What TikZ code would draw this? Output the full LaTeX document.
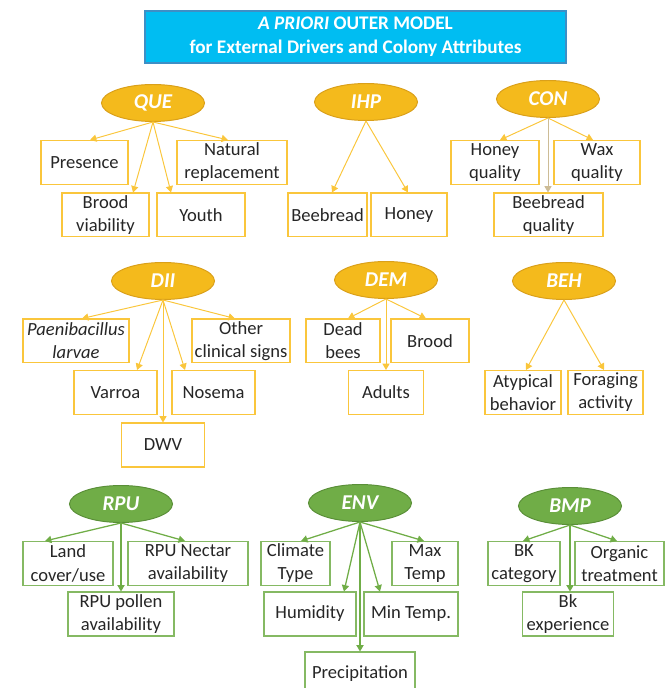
\documentclass[tikz,border=0pt]{standalone}
\usepackage{fontspec}
\setmainfont{Carlito}
\usepackage{xcolor}
\usetikzlibrary{shapes.geometric,arrows.meta,calc}
\definecolor{omgold}{RGB}{244,186,28}
\definecolor{omgoldedge}{RGB}{218,160,26}
\definecolor{omgoldline}{RGB}{250,198,60}
\definecolor{omgreen}{RGB}{112,173,71}
\definecolor{omgreenedge}{RGB}{90,143,56}
\definecolor{omcyan}{RGB}{0,189,242}
\definecolor{omcyanedge}{RGB}{61,143,198}
\definecolor{omtan}{RGB}{205,188,150}
\tikzset{
  omtitle/.style={rectangle, fill=omcyan, draw=omcyanedge, line width=1.4pt, inner sep=0pt, align=center, text=white, font=\fontsize{13.7}{17}\selectfont\bfseries},
  omgoldell/.style={ellipse, fill=omgold, draw=omgoldedge, line width=0.7pt, minimum width=2.575cm, minimum height=0.925cm, inner sep=0pt, text=white, font=\fontsize{15}{17}\selectfont\bfseries\itshape},
  omgreenell/.style={omgoldell, fill=omgreen, draw=omgreenedge},
  omgoldbox/.style={rectangle, fill=white, draw=omgoldline, line width=1pt, minimum height=1.090cm, inner sep=0pt, align=center, text=black!85, font=\fontsize{13.2}{16.4}\selectfont},
  omgreenbox/.style={omgoldbox, draw=omgreen!85},
  omgoldarr/.style={draw=omgoldline, line width=0.7pt, -{Triangle[length=1.6mm,width=1.8mm]}},
  omtanarr/.style={omgoldarr, draw=omtan},
  omgreenarr/.style={omgoldarr, draw=omgreen, line width=0.9pt},
}
\begin{document}
\begin{tikzpicture}
\useasboundingbox (0,0) rectangle (16.700,17.200);
% title
\node[omtitle, minimum width=10.525cm, minimum height=1.300cm] (title) at (8.888,16.275) {\textit{A PRIORI} OUTER MODEL\\for External Drivers and Colony Attributes};
% colony attributes (gold)
\node[omgoldell] (que) at (3.825,14.625) {QUE};
\node[omgoldell] (ihp) at (9.150,14.650) {IHP};
\node[omgoldell] (con) at (13.700,14.725) {CON};
\node[omgoldell] (dii) at (4.075,10.175) {DII};
\node[omgoldell] (dem) at (9.650,10.200) {DEM};
\node[omgoldell] (beh) at (14.100,10.175) {BEH};
\node[omgoldbox, minimum width=2.175cm] (presence) at (2.113,13.138) {Presence};
\node[omgoldbox, minimum width=2.750cm] (natrepl) at (5.800,13.138) {Natural\\replacement};
\node[omgoldbox, minimum width=2.175cm] (broodvia) at (2.638,11.825) {Brood\\viability};
\node[omgoldbox, minimum width=2.200cm] (youth) at (5.025,11.825) {Youth};
\node[omgoldbox, minimum width=1.975cm] (beebread) at (8.188,11.825) {Beebread};
\node[omgoldbox, minimum width=1.900cm] (honey) at (10.225,11.825) {Honey};
\node[omgoldbox, minimum width=2.200cm] (honeyq) at (12.375,13.138) {Honey\\quality};
\node[omgoldbox, minimum width=2.150cm] (waxq) at (14.925,13.138) {Wax\\quality};
\node[omgoldbox, minimum width=2.725cm] (beebreadq) at (13.713,11.825) {Beebread\\quality};
\node[omgoldbox, minimum width=2.650cm] (paeni) at (1.900,8.675) {\textit{Paenibacillus}\\\textit{larvae}};
\node[omgoldbox, minimum width=2.450cm] (otherclin) at (6.025,8.675) {Other\\clinical signs};
\node[omgoldbox, minimum width=2.075cm] (varroa) at (2.888,7.388) {Varroa};
\node[omgoldbox, minimum width=2.075cm] (nosema) at (5.338,7.388) {Nosema};
\node[omgoldbox, minimum width=2.075cm] (dwv) at (4.075,6.075) {DWV};
\node[omgoldbox, minimum width=1.850cm] (deadbees) at (8.575,8.675) {Dead\\bees};
\node[omgoldbox, minimum width=1.950cm] (brood) at (10.750,8.675) {Brood};
\node[omgoldbox, minimum width=1.875cm] (adults) at (9.650,7.388) {Adults};
\node[omgoldbox, minimum width=1.900cm] (atypical) at (13.075,7.388) {Atypical\\behavior};
\node[omgoldbox, minimum width=1.875cm] (foraging) at (15.138,7.388) {Foraging\\activity};
% external drivers (green)
\node[omgreenell] (rpu) at (3.025,4.600) {RPU};
\node[omgreenell] (env) at (9.000,4.625) {ENV};
\node[omgreenell] (bmp) at (14.250,4.550) {BMP};
\node[omgreenbox, minimum width=2.250cm] (landcover) at (1.700,3.113) {Land\\cover/use};
\node[omgreenbox, minimum width=3.000cm] (nectar) at (4.700,3.113) {RPU Nectar\\availability};
\node[omgreenbox, minimum width=2.650cm] (pollen) at (3.025,1.850) {RPU pollen\\availability};
\node[omgreenbox, minimum width=1.725cm] (climate) at (7.388,3.113) {Climate\\Type};
\node[omgreenbox, minimum width=1.650cm] (maxtemp) at (10.625,3.113) {Max\\Temp};
\node[omgreenbox, minimum width=2.300cm] (humidity) at (7.750,1.850) {Humidity};
\node[omgreenbox, minimum width=2.350cm] (mintemp) at (10.275,1.850) {Min Temp.};
\node[omgreenbox, minimum width=2.750cm] (precip) at (9.000,0.350) {Precipitation};
\node[omgreenbox, minimum width=1.800cm] (bkcat) at (13.100,3.113) {BK\\category};
\node[omgreenbox, minimum width=2.225cm] (organic) at (15.488,3.113) {Organic\\treatment};
\node[omgreenbox, minimum width=2.275cm] (bkexp) at (14.200,1.850) {Bk\\experience};
% arrows
\draw[omgoldarr] (que.south) -- ($(presence.north)+(0.138,0)$);
\draw[omgoldarr] (que.south) -- ($(natrepl.north)+(-0.100,0)$);
\draw[omgoldarr] (que.south) -- ($(broodvia.north)+(0.688,0)$);
\draw[omgoldarr] (que.south) -- ($(youth.north)+(-0.750,0)$);
\draw[omgoldarr] (ihp.south) -- ($(beebread.north)+(0.113,0)$);
\draw[omgoldarr] (ihp.south) -- ($(honey.north)+(-0.025,0)$);
\draw[omgoldarr] (con.south) -- ($(honeyq.north)+(0.125,0)$);
\draw[omgoldarr] (con.south) -- ($(waxq.north)+(-0.100,0)$);
\draw[omtanarr] (con.south) -- (con.south |- beebreadq.north);
\draw[omgoldarr] (dii.south) -- ($(paeni.north)+(0.150,0)$);
\draw[omgoldarr] (dii.south) -- ($(otherclin.north)+(-0.150,0)$);
\draw[omgoldarr] (dii.south) -- ($(varroa.north)+(0.538,0)$);
\draw[omgoldarr] (dii.south) -- ($(nosema.north)+(-0.713,0)$);
\draw[omgoldarr] (dii.south) -- (dwv.north);
\draw[omgoldarr] (dem.south) -- ($(deadbees.north)+(0.125,0)$);
\draw[omgoldarr] (dem.south) -- ($(brood.north)+(-0.100,0)$);
\draw[omgoldarr] (dem.south) -- (adults.north);
\draw[omgoldarr] (beh.south) -- ($(atypical.north)+(0.075,0)$);
\draw[omgoldarr] (beh.south) -- ($(foraging.north)+(-0.038,0)$);
\draw[omgreenarr] (rpu.south) -- ($(landcover.north)+(-0.575,0)$);
\draw[omgreenarr] (rpu.south) -- ($(nectar.north)+(-0.075,0)$);
\draw[omgreenarr] (rpu.south) -- (pollen.north);
\draw[omgreenarr] (env.south) -- ($(climate.north)+(0.138,0)$);
\draw[omgreenarr] (env.south) -- ($(maxtemp.north)+(-0.025,0)$);
\draw[omgreenarr] (env.south) -- ($(humidity.north)+(0.850,0)$);
\draw[omgreenarr] (env.south) -- ($(mintemp.north)+(-0.775,0)$);
\draw[omgreenarr] (env.south) -- (precip.north);
\draw[omgreenarr] (bmp.south) -- ($(bkcat.north)+(-0.025,0)$);
\draw[omgreenarr] (bmp.south) -- ($(organic.north)+(-0.063,0)$);
\draw[omgreenarr] (bmp.south) -- (bmp.south |- bkexp.north);
\end{tikzpicture}
\end{document}
